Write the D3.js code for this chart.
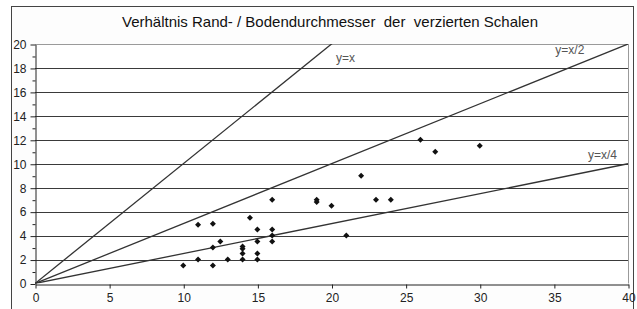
<!DOCTYPE html>
<html>
<head>
<meta charset="utf-8">
<script src="https://cdn.jsdelivr.net/npm/d3@7"></script>
<style>
  body { margin: 0; background: #fff; }
  text { font-family: "Liberation Sans", Arial, sans-serif; }
</style>
</head>
<body>
<svg id="chart" width="637" height="309"></svg>
<script>
// Randdurchmesser (x) vs Bodendurchmesser (y)
var randValues  = [10, 11, 11, 12, 12, 12, 12.5, 13, 14, 14, 14, 14, 14.5, 15, 15, 15, 15, 16, 16, 16, 16, 19, 19, 20, 21, 22, 23, 24, 26, 27, 30];
var bodenValues = [1.5, 2, 4.9, 5, 3, 1.5, 3.5, 2, 3.1, 2.9, 2.5, 2, 5.5, 4.5, 3.5, 2.5, 2, 7, 4.5, 4, 3.5, 7, 6.8, 6.5, 4, 9, 7, 7, 12, 11, 11.5];

// reference lines y = x / divisor
var refLabels   = ['y=x', 'y=x/2', 'y=x/4'];
var refDivisors = [1, 2, 4];

var xTicks = [0, 5, 10, 15, 20, 25, 30, 35, 40];
var yTicks = [0, 2, 4, 6, 8, 10, 12, 14, 16, 18, 20];
var yMinorTicks = [1, 3, 5, 7, 9, 11, 13, 15, 17, 19];

var title = 'Verhältnis Rand- / Bodendurchmesser  der  verzierten Schalen';

var svg = d3.select('#chart');

// chart frame
svg.append('rect')
  .attr('x', 11.5).attr('y', 6.5)
  .attr('width', 622).attr('height', 310)
  .attr('fill', '#fdfdfd')
  .attr('stroke', '#444');

svg.append('text')
  .attr('x', 330).attr('y', 27)
  .attr('text-anchor', 'middle')
  .attr('font-size', '15px')
  .attr('fill', '#111')
  .style('white-space', 'pre')
  .text(title);

var x = d3.scaleLinear().domain([0, 40]).range([35, 628]);
var y = d3.scaleLinear().domain([0, 20]).range([283.5, 44]);

// plot area
svg.append('rect')
  .attr('x', x(0)).attr('y', y(20))
  .attr('width', x(40) - x(0)).attr('height', y(0) - y(20))
  .attr('fill', '#fff');

// gridlines
svg.append('g').selectAll('line')
  .data(yTicks.filter(function(d){ return d > 0; }))
  .enter().append('line')
  .attr('x1', x(0)).attr('x2', x(40))
  .attr('y1', function(d){ return Math.round(y(d)) + 0.5; })
  .attr('y2', function(d){ return Math.round(y(d)) + 0.5; })
  .attr('stroke', function(d){ return d === 20 ? '#9a9a9a' : '#3a3a3a'; })
  .attr('stroke-width', 1);

// right border of plot area
svg.append('line')
  .attr('x1', Math.round(x(40)) + 0.5).attr('x2', Math.round(x(40)) + 0.5)
  .attr('y1', y(20)).attr('y2', y(0))
  .attr('stroke', '#9a9a9a');

// y axis
var yAxis = d3.axisLeft(y).tickValues(yTicks).tickSize(5).tickPadding(4).tickSizeOuter(0);
var gy = svg.append('g')
  .attr('transform', 'translate(' + (Math.round(x(0)) + 0.5) + ',0.5)')
  .call(yAxis);
gy.selectAll('text').attr('font-size', '12px').attr('fill', '#222').attr('font-family', '"Liberation Sans", Arial, sans-serif');
gy.selectAll('line, path').attr('stroke', '#222');

var yMinor = d3.axisLeft(y).tickValues(yMinorTicks).tickSize(3).tickFormat('').tickSizeOuter(0);
svg.append('g')
  .attr('transform', 'translate(' + (Math.round(x(0)) + 0.5) + ',0.5)')
  .call(yMinor)
  .call(function(g){ g.select('.domain').remove(); })
  .selectAll('line').attr('stroke', '#222');

// x axis
var xAxis = d3.axisBottom(x).tickValues(xTicks).tickSize(4).tickPadding(5).tickSizeOuter(0);
var gx = svg.append('g')
  .attr('transform', 'translate(0.5,' + (Math.round(y(0)) + 0.5) + ')')
  .call(xAxis);
gx.selectAll('text').attr('font-size', '12px').attr('fill', '#222').attr('font-family', '"Liberation Sans", Arial, sans-serif');
gx.selectAll('line, path').attr('stroke', '#222');

// reference lines, clipped to the plot area
svg.append('clipPath').attr('id', 'plotClip')
  .append('rect')
  .attr('x', x(0)).attr('y', y(20))
  .attr('width', x(40) - x(0)).attr('height', y(0) - y(20));

var refs = refDivisors.map(function(div, i){
  return { label: refLabels[i], pts: [[0, 0], [40, 40 / div]] };
});

var line = d3.line()
  .x(function(d){ return x(d[0]); })
  .y(function(d){ return y(d[1]); });

svg.append('g').attr('clip-path', 'url(#plotClip)')
  .selectAll('path')
  .data(refs)
  .enter().append('path')
  .attr('d', function(d){ return line(d.pts); })
  .attr('fill', 'none')
  .attr('stroke', '#333')
  .attr('stroke-width', 1.3);

// line labels
var labelPos = [[20.3, 18.5], [35.1, 19.2], [37.3, 10.4]];
svg.append('g').selectAll('text')
  .data(refs)
  .enter().append('text')
  .attr('x', function(d, i){ return x(labelPos[i][0]); })
  .attr('y', function(d, i){ return y(labelPos[i][1]); })
  .attr('font-size', '12px')
  .attr('fill', '#555')
  .text(function(d){ return d.label; });

// scatter points (square diamonds as in Excel)
var points = randValues.map(function(v, i){ return [v, bodenValues[i]]; });
var marker = d3.symbol().type(d3.symbolSquare).size(18);
svg.append('g').selectAll('path')
  .data(points)
  .enter().append('path')
  .attr('transform', function(d){ return 'translate(' + x(d[0]) + ',' + y(d[1]) + ') rotate(45)'; })
  .attr('d', marker)
  .attr('fill', '#111');
</script>
</body>
</html>
